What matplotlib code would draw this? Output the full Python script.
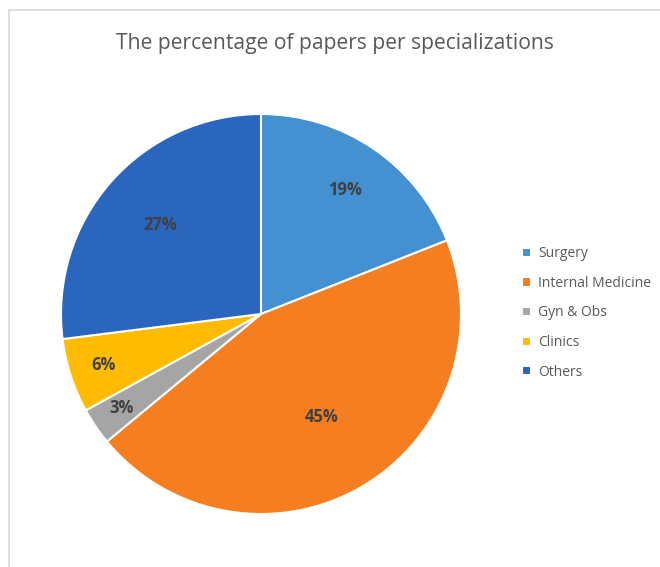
import numpy as np
import matplotlib.pyplot as plt
from matplotlib.lines import Line2D

plt.rcParams['font.family'] = ['Open Sans', 'DejaVu Sans']

labels = ["Surgery", "Internal Medicine", "Gyn & Obs", "Clinics", "Others"]
shares = [19, 45, 3, 6, 27]
colors = ["#4391D0", "#F47E20", "#A5A5A5", "#FFBB00", "#2A66BE"]
label_dist = [0.75, 0.60, 0.84, 0.83, 0.67]  # how far out each % label sits

fig = plt.figure(figsize=(6.6, 5.67), dpi=100)

# light grey chart-area frame (only top and left visible in the crop)
fig.add_artist(Line2D([8.5/660, 8.5/660], [0, 1 - 9.5/567], color="#D9D9D9", lw=1.2))
fig.add_artist(Line2D([8.5/660, 1], [1 - 9.5/567, 1 - 9.5/567], color="#D9D9D9", lw=1.2))

ax = fig.add_axes([61/660, 1 - 514/567, 400/660, 400/567])
wedges, _ = ax.pie(shares, colors=colors, startangle=90, counterclock=False,
                   wedgeprops=dict(edgecolor="white", linewidth=1.5))
ax.set_xlim(-1, 1)
ax.set_ylim(-1, 1)
ax.set_aspect("equal")

for w, s, d in zip(wedges, shares, label_dist):
    mid = np.deg2rad((w.theta1 + w.theta2) / 2)
    ax.text(d*np.cos(mid), d*np.sin(mid), "%d%%" % s, ha="center", va="center",
            fontsize=12, fontweight="bold", color="#404040")

fig.text(335/660, 1 - 43/567, "The percentage of papers per specializations",
         ha="center", va="center", fontsize=15.2, color="#595959")

fig.legend(wedges, labels, loc="center left", bbox_to_anchor=(522/660, 1 - 313/567),
           frameon=False, fontsize=10, handlelength=0.65, handleheight=0.65,
           handletextpad=0.5, labelspacing=1.05, borderpad=0, borderaxespad=0,
           labelcolor="#595959")

fig.savefig("out.png", dpi=100, facecolor="white")
